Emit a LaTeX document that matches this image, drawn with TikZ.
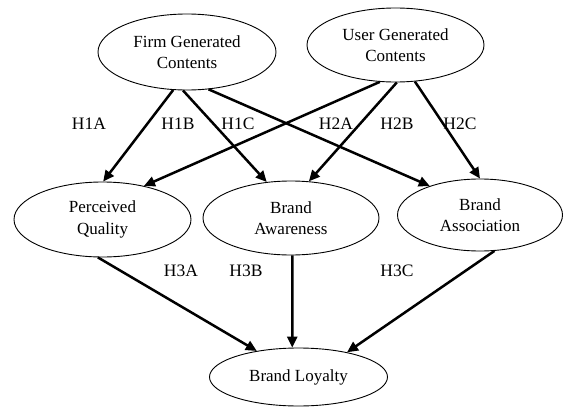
\documentclass[tikz,border=0pt]{standalone}
\usepackage{fontspec}
\setmainfont{Liberation Serif}
\usetikzlibrary{arrows.meta,shapes.geometric}
\begin{document}
\begin{tikzpicture}[x=1pt,y=-1pt,
  construct/.style={ellipse,draw,line width=0.9pt,inner sep=0pt,align=center,
    font=\fontsize{17}{21.5}\selectfont},
  hyp/.style={font=\fontsize{17.5}{20}\selectfont,inner sep=0pt},
  path/.style={line width=2.5pt,-{Triangle[length=11pt,width=10pt]}}]
\useasboundingbox (0,0) rectangle (563,407);
% constructs
\node[construct,minimum width=178pt,minimum height=76pt] (firm) at (187,52) {Firm Generated\\Contents};
\node[construct,minimum width=177pt,minimum height=74pt] (user) at (395.5,45) {User Generated\\Contents};
\node[construct,minimum width=177pt,minimum height=75pt] (pq) at (102.5,219.5) {Perceived\\Quality};
\node[construct,minimum width=176pt,minimum height=74pt] (aw) at (291,218) {Brand\\Awareness};
\node[construct,minimum width=165pt,minimum height=72pt] (as) at (480,215) {Brand\\Association};
\node[construct,minimum width=178pt,minimum height=58pt] (bl) at (298.5,377) {Brand Loyalty};
% hypothesised paths
\draw[path] (firm.-110) -- (pq.89);
\draw[path] (firm.-96) -- (aw.124);
\draw[path] (firm.-60) -- (as.150);
\draw[path] (user.-113) -- (pq.39);
\draw[path] (user.-88) -- (aw.64);
\draw[path] (user.-62) -- (as.90);
\draw[path] (pq.-97) -- (bl.148);
\draw[path] (aw.-88.5) -- (bl.102.6);
\draw[path] (as.-68) -- (bl.27);
% path labels
\node[hyp] (h1a) at (89,124) {H1A};
\node[hyp] (h1b) at (178,124) {H1B};
\node[hyp] (h1c) at (238,124) {H1C};
\node[hyp] (h2a) at (336,124) {H2A};
\node[hyp] (h2b) at (397,124) {H2B};
\node[hyp] (h2c) at (460,124) {H2C};
\node[hyp] (h3a) at (181,271) {H3A};
\node[hyp] (h3b) at (246,271) {H3B};
\node[hyp] (h3c) at (397,271) {H3C};
\end{tikzpicture}
\end{document}
